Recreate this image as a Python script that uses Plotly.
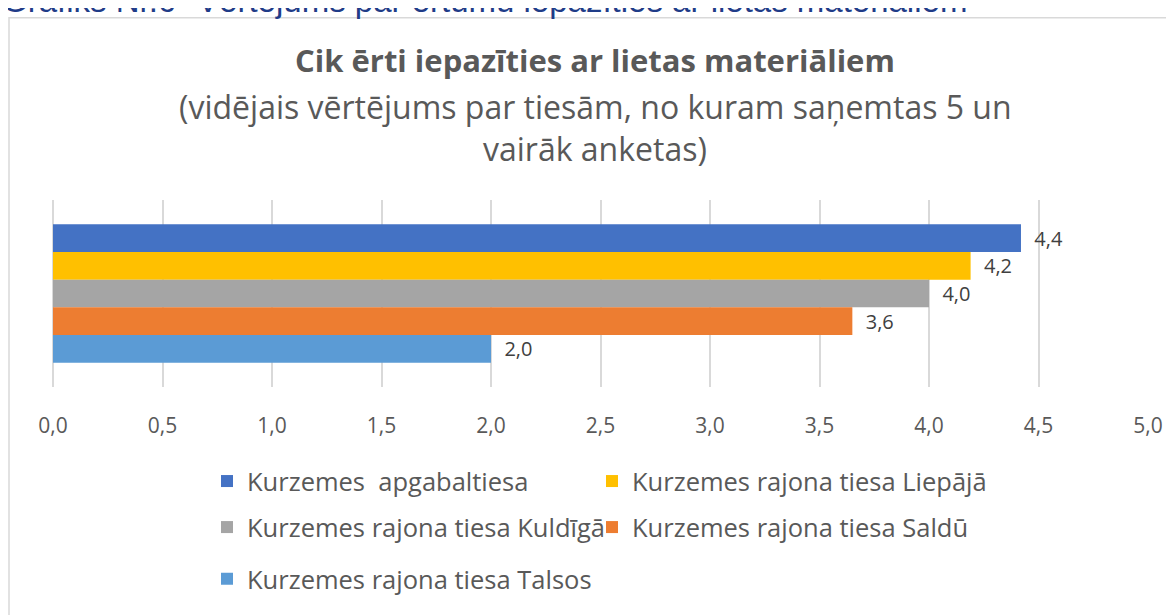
import plotly.graph_objects as go

series_names = [
    "Kurzemes  apgabaltiesa",
    "Kurzemes rajona tiesa Liepājā",
    "Kurzemes rajona tiesa Kuldīgā",
    "Kurzemes rajona tiesa Saldū",
    "Kurzemes rajona tiesa Talsos",
]
series_values = [4.42, 4.19, 4.0, 3.65, 2.0]
series_colors = ["#4472C4", "#FFC000", "#A5A5A5", "#ED7D31", "#5B9BD5"]
legend_ids = ["legend", "legend2", "legend3", "legend4", "legend5"]
tick_values = [0, 0.5, 1, 1.5, 2, 2.5, 3, 3.5, 4, 4.5, 5]

FONT = "Open Sans"
GRAY = "#595959"

# page body has an 8px default margin; work in reference pixels and shift
OFF = 8
W, H = 1174 - OFF, 615 - OFF
L, R, T, B = 53 - OFF, 1148 - OFF, 200 - OFF, 395 - OFF


def py(p):
    return (B - (p - OFF)) / (B - T)


def px(p):
    return ((p - OFF) - L) / (R - L)


fig = go.Figure()
for name, val, col, lg in zip(series_names, series_values, series_colors, legend_ids):
    fig.add_trace(go.Bar(
        x=[val], y=[""], orientation="h", name=name,
        marker=dict(color=col, line=dict(width=0)),
        text=[val], texttemplate="  %{x:.1f}", textposition="outside",
        textfont=dict(family=FONT, size=20, color="#404040"),
        cliponaxis=False, legend=lg,
    ))

leg_common = dict(orientation="v", xanchor="left", yanchor="top",
                  font=dict(family=FONT, size=25.5, color=GRAY),
                  bgcolor="rgba(0,0,0,0)", itemclick=False, borderwidth=0)

COL1, COL2 = px(207), px(592)
ROW1, ROW2, ROW3 = py(469), py(517), py(571)

fig.update_layout(
    width=W, height=H,
    margin=dict(l=L, r=W - R, t=T, b=H - B, pad=0),
    paper_bgcolor="white", plot_bgcolor="white",
    separators=", ",
    barmode="group", bargap=0.26, bargroupgap=0,
    showlegend=True,
    legend=dict(x=COL1, y=ROW1, **leg_common),
    legend2=dict(x=COL2, y=ROW1, **leg_common),
    legend3=dict(x=COL1, y=ROW2, **leg_common),
    legend4=dict(x=COL2, y=ROW2, **leg_common),
    legend5=dict(x=COL1, y=ROW3, **leg_common),
    xaxis=dict(range=[0, 5], tickvals=tick_values, tickformat=".1f",
               showgrid=True, gridcolor="#D9D9D9", gridwidth=1.5,
               zeroline=True, zerolinecolor="#D9D9D9", zerolinewidth=1.5,
               showline=False, ticks="", ticklabelstandoff=24,
               tickfont=dict(family=FONT, size=21, color=GRAY)),
    yaxis=dict(autorange="reversed", showticklabels=False, showgrid=False,
               zeroline=False, showline=False),
    annotations=[
        dict(text="Grafiks Nr.6 \"Vērtējums par ērtumu iepazīties ar lietas materiāliem\"",
             xref="paper", yref="paper", x=px(0), y=py(13), xanchor="left", yanchor="bottom",
             showarrow=False, font=dict(family="Liberation Sans", size=33, color="#1F3C88")),
        dict(text="<b>Cik ērti iepazīties ar lietas materiāliem</b>",
             xref="paper", yref="paper", x=px(595), y=py(54), xanchor="center", yanchor="middle",
             showarrow=False, font=dict(family=FONT, size=31, color=GRAY)),
        dict(text="(vidējais vērtējums par tiesām, no kuram saņemtas 5 un",
             xref="paper", yref="paper", x=px(595), y=py(103), xanchor="center", yanchor="middle",
             showarrow=False, font=dict(family=FONT, size=32, color=GRAY)),
        dict(text="vairāk anketas)",
             xref="paper", yref="paper", x=px(595), y=py(146), xanchor="center", yanchor="middle",
             showarrow=False, font=dict(family=FONT, size=32, color=GRAY)),
    ],
    shapes=[
        dict(type="rect", xref="paper", yref="paper",
             x0=px(9), x1=px(1190), y0=py(640), y1=py(10),
             line=dict(color="#D9D9D9", width=1.5), fillcolor="rgba(0,0,0,0)", layer="below"),
    ],
)

fig.write_html("out.html")
